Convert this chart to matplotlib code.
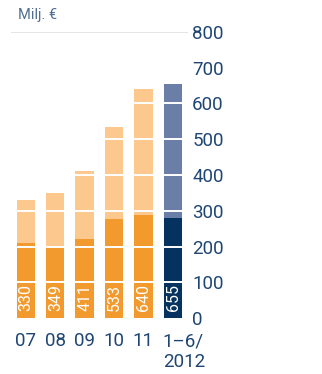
import matplotlib.pyplot as plt
import matplotlib.transforms as mtransforms

# values (Milj. €)
periods = ["07", "08", "09", "10", "11", "1–6/\n2012"]
totals = [330, 349, 411, 533, 640, 655]
lower_part = [210, 200, 221, 276, 287, 280]
y_ticks = [0, 100, 200, 300, 400, 500, 600, 700, 800]

dark_orange = "#f39a2e"
light_orange = "#fcc88e"
navy = "#05325f"
light_navy = "#6a7ea8"
text_blue = "#1f4673"

plt.rcParams["font.family"] = ["Roboto", "DejaVu Sans"]

fig = plt.figure(figsize=(3.22, 3.74), dpi=100)
ax = fig.add_axes([11 / 322, (374 - 318.3) / 374, 177 / 322, (318.3 - 31.7) / 374])

x = list(range(len(periods)))
bar_w = 0.62
upper_part = [t - l for t, l in zip(totals, lower_part)]
low_colors = [dark_orange] * 5 + [navy]
up_colors = [light_orange] * 5 + [light_navy]

ax.bar(x, lower_part, width=bar_w, color=low_colors, zorder=2)
ax.bar(x, upper_part, bottom=lower_part, width=bar_w, color=up_colors, zorder=2)

# white lines cutting the bars every 100
for v in y_ticks[1:-1]:
    ax.axhline(v, color="white", lw=1.4, zorder=3)
ax.axhline(800, color="#e2e2e2", lw=1.3, zorder=1)

# values inside bars
for xi, t in zip(x, totals):
    ax.annotate(str(t), (xi, 0), xytext=(0.3, 5), textcoords="offset points",
                rotation=90, ha="center", va="bottom", color="white",
                fontsize=11.5, zorder=4)

# period labels under the bars
trans = mtransforms.blended_transform_factory(ax.transData, ax.transAxes)
for xi, p in zip(x, periods):
    if "\n" in p:
        ax.text(xi - bar_w / 2 - 0.03, -0.048, p, transform=trans, ha="left", va="top",
                fontsize=13.5, color=text_blue, linespacing=1.2)
    else:
        ax.text(xi, -0.048, p, transform=trans, ha="center", va="top",
                fontsize=13.5, color=text_blue)

ax.set_xlim(-0.503, 5.517)
ax.set_ylim(0, 800)
ax.set_xticks([])
ax.yaxis.tick_right()
ax.set_yticks(y_ticks)
ax.set_yticklabels([str(v) for v in y_ticks], fontsize=13.5, color=text_blue)
ax.tick_params(axis="y", length=0, pad=3)
for s in ax.spines.values():
    s.set_visible(False)

fig.text(18 / 322, 1 - 15 / 374, "Milj. €", fontsize=10.5, color="#4f6e92",
         ha="left", va="center")

fig.savefig("out.png", dpi=100)
